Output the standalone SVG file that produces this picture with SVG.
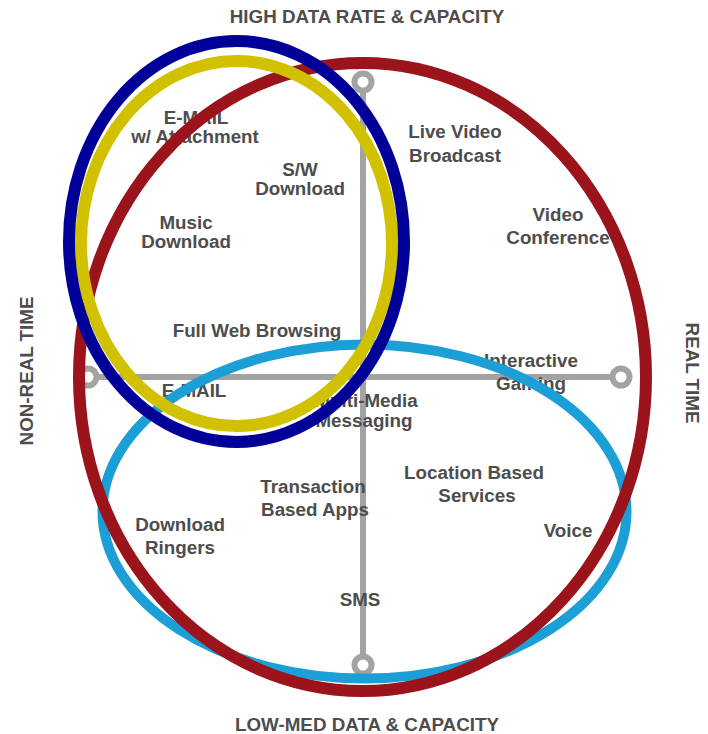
<svg xmlns="http://www.w3.org/2000/svg" width="708" height="734" viewBox="0 0 708 734">
<style>
.t{font-family:"Liberation Sans",Arial,sans-serif;font-weight:bold;font-size:18.8px;fill:#4d4d4d;text-anchor:middle}
.ax{stroke:#a3a3a3;stroke-width:6;fill:none}
.end{stroke:#a3a3a3;stroke-width:6;fill:#fff}
.ring{fill:none}
</style>
<rect width="708" height="734" fill="#fff"/>
<g id="axes">
<line class="ax" x1="363" y1="82" x2="363" y2="665"/>
<line class="ax" x1="88" y1="377" x2="621" y2="377"/>
<circle class="end" cx="363" cy="82" r="8.5"/>
<circle class="end" cx="363" cy="665" r="8.5"/>
<circle class="end" cx="88" cy="377" r="8.5"/>
<circle class="end" cx="621" cy="377" r="8.5"/>
</g>
<g id="axis-labels">
<text class="t" x="367" y="23">HIGH DATA RATE &amp; CAPACITY</text>
<text class="t" x="367" y="731">LOW-MED DATA &amp; CAPACITY</text>
<text class="t" transform="translate(33,371) rotate(-90)">NON-REAL TIME</text>
<text class="t" transform="translate(686,373) rotate(90)">REAL TIME</text>
</g>
<g id="labels">
<g id="email-attach"><text class="t" x="196" y="124">E-MAIL</text><text class="t" x="195" y="143">w/ Attachment</text></g>
<g id="sw-download"><text class="t" x="300" y="176">S/W</text><text class="t" x="300" y="195">Download</text></g>
<g id="music-download"><text class="t" x="186" y="229">Music</text><text class="t" x="186" y="248">Download</text></g>
<g id="live-video"><text class="t" x="455" y="138">Live Video</text><text class="t" x="455" y="162">Broadcast</text></g>
<g id="video-conf"><text class="t" x="558" y="221">Video</text><text class="t" x="558" y="244">Conference</text></g>
<g id="web-browsing"><text class="t" x="257" y="337">Full Web Browsing</text></g>
<g id="gaming"><text class="t" x="531" y="367">Interactive</text><text class="t" x="531" y="390">Gaming</text></g>
<g id="email"><text class="t" x="194" y="397">E-MAIL</text></g>
<g id="mms"><text class="t" x="366" y="407">Multi-Media</text><text class="t" x="364" y="427">Messaging</text></g>
<g id="lbs"><text class="t" x="474" y="479">Location Based</text><text class="t" x="477" y="502">Services</text></g>
<g id="transaction"><text class="t" x="313" y="493">Transaction</text><text class="t" x="315" y="516">Based Apps</text></g>
<g id="ringers"><text class="t" x="180" y="531">Download</text><text class="t" x="180" y="554">Ringers</text></g>
<g id="voice"><text class="t" x="568" y="537">Voice</text></g>
<g id="sms"><text class="t" x="360" y="606">SMS</text></g>
</g>
<g id="rings">
<ellipse id="low-rate" class="ring" cx="364.5" cy="511.5" rx="262" ry="167" stroke="#1c9fd6" stroke-width="10"/>
<ellipse id="real-time" class="ring" cx="362.5" cy="377" rx="283.5" ry="314" stroke="#9b141c" stroke-width="12"/>
<ellipse id="high-rate" class="ring" cx="236.5" cy="243.5" rx="155.5" ry="182.5" stroke="#d2c100" stroke-width="12"/>
<ellipse id="non-real" class="ring" cx="236.5" cy="241.5" rx="167.5" ry="200.5" stroke="#000099" stroke-width="12"/>
</g>
</svg>
